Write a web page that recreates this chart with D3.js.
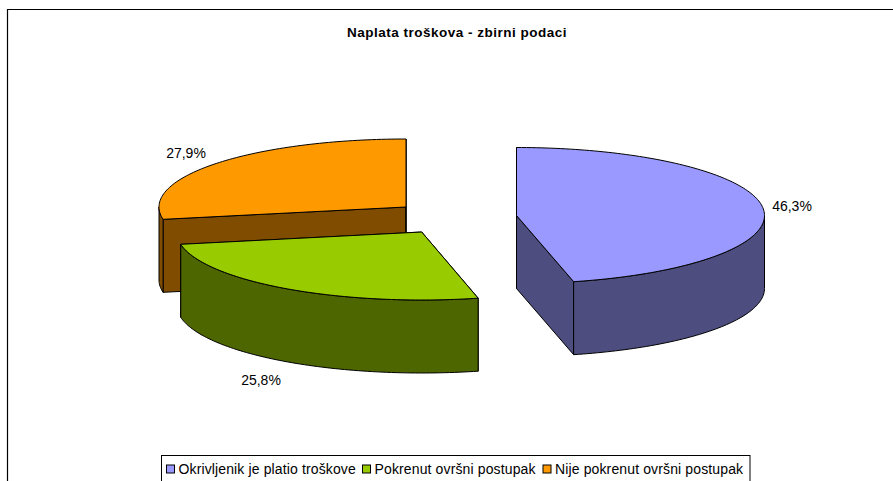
<!DOCTYPE html>
<html>
<head>
<meta charset="utf-8">
<script src="https://cdn.jsdelivr.net/npm/d3@7/dist/d3.min.js"></script>
<style>
html,body{margin:0;padding:0;background:#fff;overflow:hidden}
svg{display:block}
text{font-family:"Liberation Sans",Arial,sans-serif;fill:#000}
</style>
</head>
<body>
<svg id="c" width="893" height="481"></svg>
<script>
const title = "Naplata troškova - zbirni podaci";
const categories = ["Okrivljenik je platio troškove", "Pokrenut ovršni postupak", "Nije pokrenut ovršni postupak"];
const shares = [46.3, 25.8, 27.9];
const topColors = ["#9999FF", "#99CC00", "#FF9900"];
const sideColors = ["#4D4D80", "#4D6600", "#804D00"];
const sliceCentres = [[516.5, 215.5], [421.7, 232], [406, 207]];
const sliceRadiiX = [248, 245, 247];
const labelAnchors = [[792, 206], [261, 380], [186, 153]];
const legendX = [166.5, 362.5, 543];
const drawOrder = [2, 1, 0];

const W = 893, H = 481;
const RY = 68, DEPTH = 73;
const svg = d3.select("#c");

svg.append("rect").attr("width", W).attr("height", H).attr("fill", "#fff");
svg.append("path").attr("d", `M7.5,${H}V9.5H${W}`).attr("fill", "none").attr("stroke", "#000").attr("stroke-width", 1.2);

svg.append("text").attr("x", 457).attr("y", 36.5).attr("text-anchor", "middle")
  .attr("font-size", 13.5).attr("letter-spacing", 0.5).attr("font-weight", "bold").text(title);

const arcs = d3.pie().sort(null).value(d => d)(shares);
const unitY = d3.scaleLinear().domain([0, 1]).range([0, RY]);
const line = d3.line();

function rim(i, a0, a1, dz) {
  const [cx, cy] = sliceCentres[i];
  const unitX = d3.scaleLinear().domain([0, 1]).range([0, sliceRadiiX[i]]);
  const n = Math.max(2, Math.ceil((a1 - a0) / 0.02));
  return d3.range(n + 1).map(k => {
    const a = a0 + (a1 - a0) * k / n;
    return [cx + unitX(Math.sin(a)), cy - unitY(Math.cos(a)) + dz];
  });
}

drawOrder.forEach(i => {
  const d = arcs[i], [cx, cy] = sliceCentres[i];
  const g = svg.append("g").attr("stroke", "#000").attr("stroke-width", 1).attr("stroke-linejoin", "round");
  [d.startAngle, d.endAngle].forEach(a => {
    const p = rim(i, a, a, 0)[0];
    const pts = [[cx, cy], p, [p[0], p[1] + DEPTH], [cx, cy + DEPTH]];
    g.append("path").attr("d", line(pts) + "Z").attr("fill", sideColors[i]);
  });
  const w0 = Math.max(d.startAngle, Math.PI / 2), w1 = Math.min(d.endAngle, 3 * Math.PI / 2);
  if (w1 > w0) {
    const pts = rim(i, w0, w1, 0).concat(rim(i, w0, w1, DEPTH).reverse());
    g.append("path").attr("d", line(pts) + "Z").attr("fill", sideColors[i]);
  }
  const top = [[cx, cy]].concat(rim(i, d.startAngle, d.endAngle, 0));
  g.append("path").attr("d", line(top) + "Z").attr("fill", topColors[i]);
});

shares.forEach((v, i) => {
  svg.append("text").attr("x", labelAnchors[i][0]).attr("y", labelAnchors[i][1] + 5)
    .attr("text-anchor", "middle").attr("font-size", 14)
    .text(v.toFixed(1).replace(".", ",") + "%");
});

svg.append("rect").attr("x", 161.5).attr("y", 455.5).attr("width", 588.5).attr("height", 32)
  .attr("fill", "#fff").attr("stroke", "#000");
categories.forEach((c, i) => {
  svg.append("rect").attr("x", legendX[i]).attr("y", 465).attr("width", 8).attr("height", 8)
    .attr("fill", topColors[i]).attr("stroke", "#000").attr("stroke-width", 1);
  svg.append("text").attr("x", legendX[i] + 12).attr("y", 474).attr("font-size", 14).attr("letter-spacing", 0.13).text(c);
});
</script>
</body>
</html>
